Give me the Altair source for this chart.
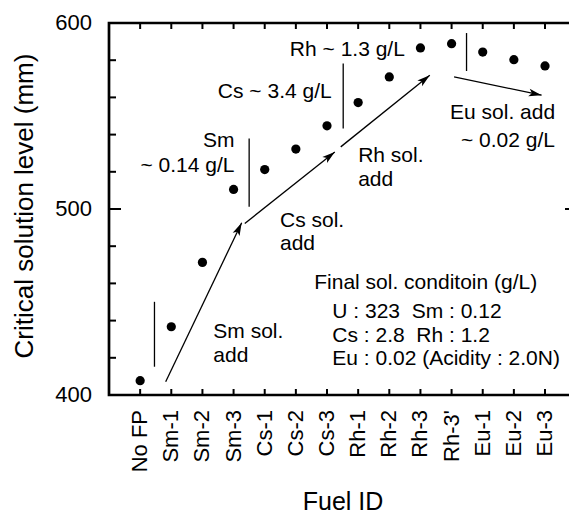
import math
import altair as alt
import pandas as pd

# ---------------- data ----------------
fuel_ids = ["No FP", "Sm-1", "Sm-2", "Sm-3", "Cs-1", "Cs-2", "Cs-3",
            "Rh-1", "Rh-2", "Rh-3", "Rh-3'", "Eu-1", "Eu-2", "Eu-3"]
levels = [407.7, 436.7, 471.3, 510.5, 521.2, 532.2, 544.7,
          557.2, 571.0, 586.6, 588.9, 584.4, 580.3, 576.9]

# vertical separator lines (x in fuel index units, y in mm)
sep_x = [0.46, 3.50, 6.52, 10.48]
sep_y1 = [415.2, 501.2, 543.3, 574.2]
sep_y2 = [450.1, 537.9, 578.2, 594.6]

# arrows
arrow_x1 = [0.82, 3.36, 6.44, 10.08]
arrow_y1 = [407.1, 492.2, 533.4, 571.0]
arrow_x2 = [3.26, 6.25, 9.30, 12.89]
arrow_y2 = [492.6, 530.7, 571.9, 561.2]

# annotation texts
note_text = ["Sm", "~ 0.14 g/L", "Cs ~ 3.4 g/L", "Rh ~ 1.3 g/L", "~ 0.02 g/L",
             "Eu sol. add", "Rh sol.", "add", "Cs sol.", "add", "Sm sol.", "add",
             "Final sol. conditoin (g/L)",
             "U : 323 \u00a0Sm : 0.12",
             "Cs : 2.8 \u00a0Rh : 1.2",
             "Eu : 0.02 (Acidity : 2.0N)"]
note_x = [3.03, 3.03, 6.15, 8.50, 13.32,
          9.95, 7.00, 7.00, 4.49, 4.49, 2.35, 2.35,
          5.59, 6.17, 6.17, 6.17]
note_y = [533.2, 520.1, 559.8, 582.3, 533.4,
          548.3, 525.3, 512.4, 490.4, 477.9, 430.5, 418.0,
          456.9, 441.5, 428.6, 416.1]
note_align = ["right", "right", "right", "right", "right",
              "left", "left", "left", "left", "left", "left", "left",
              "left", "left", "left", "left"]

major_y = [400, 500, 600]
minor_y = [420, 440, 460, 480, 520, 540, 560, 580]
right_y = [500]
x_title = "Fuel ID"
y_title = "Critical solution level (mm)"

# ---------------- layout ----------------
W, H = 460, 372
X_DOMAIN = [-1.0, 13.77]
Y_DOMAIN = [400, 600]
FONT = "Liberation Sans"
PX_X = W / (X_DOMAIN[1] - X_DOMAIN[0])
PX_Y = H / (Y_DOMAIN[1] - Y_DOMAIN[0])
AXIS_W = 2.7
TICK_W = 2
TICK_X = 6
TICK_MAJOR = 12
TICK_MINOR = 7
TICK_RIGHT = 4
X_LABEL_PAD = 15
Y_LABEL_PAD = 17
Y_TITLE_OFF = 76
Y_TITLE_POS = 183
X_TITLE_OFF = 115
X_TITLE_POS = 234

x0, x1 = X_DOMAIN
y0, y1 = Y_DOMAIN

pts = pd.DataFrame({"idx": list(range(len(fuel_ids))), "fuel": fuel_ids, "level": levels})
seps = pd.DataFrame({"x": sep_x, "y1": sep_y1, "y2": sep_y2})
arrows = pd.DataFrame({"x1": arrow_x1, "y1": arrow_y1, "x2": arrow_x2, "y2": arrow_y2})
arrows["ang"] = [
    (math.degrees(math.atan2((b - a) * PX_X, (d - c) * PX_Y)) + 360) % 360
    for a, b, c, d in zip(arrow_x1, arrow_x2, arrow_y1, arrow_y2)
]
notes = pd.DataFrame({"x": note_x, "y": note_y, "text": note_text, "align": note_align})

# frame as one polyline: bottom-right -> bottom-left -> top-left -> top-right
frame_df = pd.DataFrame({"fx": [x1, x0, x0, x1], "fy": [y0, y0, y1, y1], "o": [0, 1, 2, 3]})

# tick centres (mark_tick is centred on its position)
xt_rows = []
for v in range(len(fuel_ids)):
    xt_rows.append({"x": v, "y": y0 + (TICK_X / 2) / PX_Y})
    xt_rows.append({"x": v, "y": y1 - (TICK_X / 2) / PX_Y})
xt_df = pd.DataFrame(xt_rows)
ytmaj_df = pd.DataFrame({"x": [x0 + (TICK_MAJOR / 2) / PX_X] * len(major_y), "y": major_y})
ytmin_df = pd.DataFrame({"x": [x0 + (TICK_MINOR / 2) / PX_X] * len(minor_y), "y": minor_y})
ytr_df = pd.DataFrame({"x": [x1 - (TICK_RIGHT / 2) / PX_X] * len(right_y), "y": right_y})

xlab_df = pd.DataFrame({"x": list(range(len(fuel_ids))), "y": [y0] * len(fuel_ids), "t": fuel_ids})
ylab_df = pd.DataFrame({"x": [x0] * len(major_y), "y": major_y, "t": [str(v) for v in major_y]})
ytitle_df = pd.DataFrame({"x": [x0 - Y_TITLE_OFF / PX_X], "y": [y1 - Y_TITLE_POS / PX_Y], "t": [y_title]})
xtitle_df = pd.DataFrame({"x": [x0 + X_TITLE_POS / PX_X], "y": [y0 - X_TITLE_OFF / PX_Y], "t": [x_title]})

xs = alt.Scale(domain=X_DOMAIN, nice=False, zero=False)
ys = alt.Scale(domain=Y_DOMAIN, nice=False, zero=False)


def X(field):
    return alt.X(field, type="quantitative", scale=xs, axis=None)


def Y(field):
    return alt.Y(field, type="quantitative", scale=ys, axis=None)


points = alt.Chart(pts).mark_circle(size=85, color="black", opacity=1).encode(
    x=X("idx"), y=Y("level"))

frame = alt.Chart(frame_df).mark_line(
    color="black", strokeWidth=AXIS_W, strokeCap="square", strokeJoin="miter"
).encode(x=X("fx"), y=Y("fy"), order=alt.Order("o:Q"))

x_ticks = alt.Chart(xt_df).mark_tick(
    orient="vertical", size=TICK_X, thickness=TICK_W, color="black", opacity=1
).encode(x=X("x"), y=Y("y"))
y_ticks_major = alt.Chart(ytmaj_df).mark_tick(
    orient="horizontal", size=TICK_MAJOR, thickness=TICK_W, color="black", opacity=1
).encode(x=X("x"), y=Y("y"))
y_ticks_minor = alt.Chart(ytmin_df).mark_tick(
    orient="horizontal", size=TICK_MINOR, thickness=TICK_W, color="black", opacity=1
).encode(x=X("x"), y=Y("y"))
y_ticks_right = alt.Chart(ytr_df).mark_tick(
    orient="horizontal", size=TICK_RIGHT, thickness=TICK_W, color="black", opacity=1
).encode(x=X("x"), y=Y("y"))

x_labels = alt.Chart(xlab_df).mark_text(
    angle=270, align="right", baseline="middle", dx=-X_LABEL_PAD,
    font=FONT, fontSize=22, color="black",
).encode(x=X("x"), y=Y("y"), text="t:N")

y_labels = alt.Chart(ylab_df).mark_text(
    align="right", baseline="middle", dx=-Y_LABEL_PAD,
    font=FONT, fontSize=22, color="black",
).encode(x=X("x"), y=Y("y"), text="t:N")

y_title_mark = alt.Chart(ytitle_df).mark_text(
    angle=270, align="center", baseline="alphabetic",
    font=FONT, fontSize=26, color="black",
).encode(x=X("x"), y=Y("y"), text="t:N")

x_title_mark = alt.Chart(xtitle_df).mark_text(
    align="center", baseline="alphabetic",
    font=FONT, fontSize=25, color="black",
).encode(x=X("x"), y=Y("y"), text="t:N")

separators = alt.Chart(seps).mark_rule(color="black", strokeWidth=1.3).encode(
    x=X("x"), y=Y("y1"), y2="y2:Q")

arrow_lines = alt.Chart(arrows).mark_rule(color="black", strokeWidth=1.3).encode(
    x=X("x1"), x2="x2:Q", y=Y("y1"), y2="y2:Q")

arrow_heads = alt.Chart(arrows).mark_point(
    shape="M0,0 L0.5,1.7 L0,1.3 L-0.5,1.7 Z", filled=True, size=230,
    color="black", opacity=1, strokeWidth=0,
).encode(
    x=X("x2"), y=Y("y2"),
    angle=alt.Angle("ang:Q", scale=None),
)

text_right = alt.Chart(notes).transform_filter("datum.align == 'right'").mark_text(
    align="right", baseline="alphabetic", font=FONT, fontSize=21, color="black"
).encode(x=X("x"), y=Y("y"), text="text:N")

text_left = alt.Chart(notes).transform_filter("datum.align == 'left'").mark_text(
    align="left", baseline="alphabetic", font=FONT, fontSize=21, color="black"
).encode(x=X("x"), y=Y("y"), text="text:N")

chart = alt.layer(
    frame, x_ticks, y_ticks_major, y_ticks_minor, y_ticks_right,
    points, separators, arrow_lines, arrow_heads, text_right, text_left,
    x_labels, y_labels, y_title_mark, x_title_mark
).resolve_scale(x="shared", y="shared").properties(
    width=W, height=H,
    autosize=alt.AutoSizeParams(type="none"),
    padding={"left": 109, "top": 23, "right": 0, "bottom": 121},
    background="white",
).configure_view(strokeWidth=0)

chart.save("out.html", embed_options={"renderer": "svg", "actions": False})
